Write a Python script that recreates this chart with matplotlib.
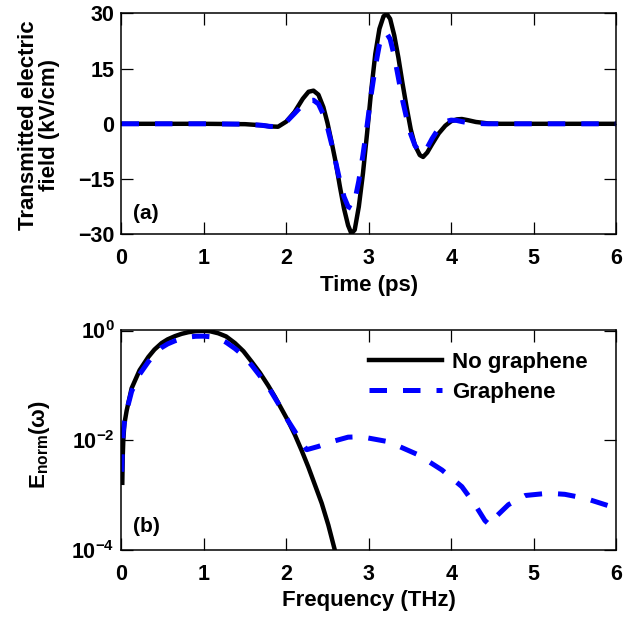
import math
import matplotlib
matplotlib.use("Agg")
import matplotlib.pyplot as plt
from matplotlib.ticker import FixedLocator, FuncFormatter, NullLocator

plt.rcParams['font.family'] = ['Liberation Sans', 'DejaVu Sans']
plt.rcParams['font.weight'] = 'bold'
plt.rcParams['mathtext.fontset'] = 'custom'
plt.rcParams['mathtext.rm'] = 'Liberation Sans:bold'
plt.rcParams['mathtext.bf'] = 'Liberation Sans:bold'
plt.rcParams['mathtext.it'] = 'Liberation Sans:bold'
plt.rcParams['mathtext.default'] = 'bf'

# ---------------- data ----------------
time_ps = [0.0, 0.5, 1.0, 1.5, 1.7, 1.8, 1.9, 2.0, 2.1, 2.2, 2.27, 2.33, 2.39,
           2.45, 2.5, 2.55, 2.6, 2.65, 2.7, 2.75, 2.79, 2.83, 2.88, 2.93, 2.98,
           3.03, 3.08, 3.13, 3.18, 3.22, 3.26, 3.31, 3.36, 3.41, 3.46, 3.51,
           3.56, 3.62, 3.66, 3.71, 3.77, 3.85, 3.93, 4.0, 4.07, 4.13, 4.2, 4.3,
           4.45, 4.6, 5.0, 5.5, 6.0]
field_no_graphene = [0.0, 0.0, 0.0, -0.1, -0.4, -0.7, -0.8, 0.6, 3.2, 6.8, 8.7,
                     9.0, 7.9, 4.5, 0.2, -5.0, -10.5, -17.0, -23.0, -27.6, -29.8,
                     -28.8, -22.5, -13.5, -2.6, 9.0, 19.0, 25.8, 29.2, 29.8, 28.5,
                     24.0, 18.0, 11.0, 4.5, -1.5, -5.8, -8.5, -9.0, -7.8, -5.5,
                     -2.6, -0.5, 0.7, 1.2, 1.3, 1.0, 0.5, 0.1, 0.0, 0.0, 0.0, 0.0]
field_graphene = [0.0, 0.0, 0.0, -0.1, -0.4, -0.7, -0.8, 0.5, 2.8, 5.2, 6.3,
                  6.4, 5.4, 2.5, -1.0, -5.5, -10.5, -15.5, -19.8, -22.5, -23.0,
                  -21.0, -15.5, -8.5, -0.5, 8.0, 15.5, 21.5, 24.5, 24.5, 23.0,
                  18.5, 12.5, 6.5, 1.5, -2.8, -5.8, -7.8, -8.0, -6.5, -4.0,
                  -1.2, 0.6, 1.0, 0.9, 0.6, 0.3, 0.1, 0.0, 0.0, 0.0, 0.0, 0.0]

freq_no_graphene = [0.01, 0.015, 0.022, 0.035, 0.063, 0.123, 0.22, 0.326, 0.4,
                    0.487, 0.56, 0.649, 0.73, 0.81, 0.9, 0.993, 1.08, 1.175,
                    1.27, 1.377, 1.48, 1.58, 1.68, 1.78, 1.86, 1.94, 2.02, 2.105,
                    2.186, 2.267, 2.348, 2.43, 2.51, 2.59, 2.63]
spec_no_graphene = [1.7e-3, 5.0e-3, 1.0e-2, 2.0e-2, 3.5e-2, 8.9e-2, 0.19, 0.33,
                    0.45, 0.59, 0.69, 0.79, 0.87, 0.93, 0.975, 0.99, 0.965, 0.89,
                    0.78, 0.59, 0.42, 0.27, 0.17, 0.10, 0.063, 0.038, 0.023,
                    0.0126, 6.6e-3, 3.3e-3, 1.55e-3, 7.2e-4, 2.9e-4, 1.0e-4,
                    6.5e-5]
freq_graphene = [0.003, 0.012, 0.022, 0.035, 0.063, 0.123, 0.22, 0.326, 0.4,
                 0.487, 0.56, 0.649, 0.73, 0.81, 0.9, 0.993, 1.08, 1.175, 1.27,
                 1.377, 1.48, 1.58, 1.68, 1.78, 1.86, 1.94, 2.02, 2.105, 2.18,
                 2.247, 2.389, 2.55, 2.75, 2.91, 3.24, 3.6, 3.89, 4.13, 4.29,
                 4.41, 4.47, 4.55, 4.695, 4.9, 5.18, 5.38, 5.625, 5.87, 6.0]
spec_graphene = [2.7e-3, 9.0e-3, 1.5e-2, 2.1e-2, 3.5e-2, 7.8e-2, 0.16, 0.27,
                 0.37, 0.49, 0.57, 0.65, 0.71, 0.76, 0.785, 0.79, 0.77, 0.72,
                 0.61, 0.47, 0.35, 0.234, 0.15, 0.095, 0.06, 0.038, 0.023,
                 0.0145, 9.5e-3, 6.8e-3, 7.8e-3, 9.5e-3, 0.0115, 0.0117, 9.5e-3,
                 5.5e-3, 2.9e-3, 1.45e-3, 6.8e-4, 3.5e-4, 2.9e-4, 4.2e-4, 6.8e-4,
                 1.0e-3, 1.1e-3, 1.05e-3, 8.9e-4, 6.8e-4, 5.9e-4]

time_ticks = [0, 1, 2, 3, 4, 5, 6]
field_ticks = [-30, -15, 0, 15, 30]
field_tick_labels = ['\u221230', '\u221215', '0', '15', '30']
spec_ticks = [1e-4, 1e-2, 1e0]
labels_legend = ['No graphene', 'Graphene']

# ---------------- figure ----------------
fig = plt.figure(figsize=(6.35, 6.17), dpi=100)
ax1 = fig.add_axes([0.1913, 0.6203, 0.7787, 0.3581])
ax2 = fig.add_axes([0.1913, 0.1078, 0.7787, 0.3573])

BLUE = '#0000ff'
DASH = (0, (3.5, 3.2))
TICK_FS = 15.5
LABEL_FS = 16


def style(ax):
    for s in ax.spines.values():
        s.set_linewidth(1.1)
    ax.tick_params(which='major', direction='in', length=8.5, width=0.9,
                   top=True, right=True, labelsize=TICK_FS)
    ax.tick_params(axis='x', pad=10)
    ax.tick_params(axis='y', pad=5)
    ax.tick_params(which='minor', length=0)
    for lab in ax.get_xticklabels() + ax.get_yticklabels():
        lab.set_fontweight('bold')


# top panel
ax1.plot(time_ps, field_no_graphene, color='black', lw=3.2)
ax1.plot(time_ps, field_graphene, color=BLUE, lw=3.6, linestyle=DASH)
ax1.set_xlim(0, 6)
ax1.set_ylim(-30, 30)
ax1.set_xticks(time_ticks)
ax1.set_yticks(field_ticks)
ax1.set_yticklabels(field_tick_labels)
style(ax1)
ax1.set_xlabel('Time (ps)', fontsize=LABEL_FS, fontweight='bold', labelpad=4)
ax1.set_ylabel('Transmitted electric\nfield (kV/cm)', fontsize=LABEL_FS,
               fontweight='bold', linespacing=1.0)
ax1.yaxis.set_label_coords(-0.124, 0.495)
ax1.text(0.023, 0.096, '(a)', transform=ax1.transAxes, fontsize=15,
         fontweight='bold', va='center', ha='left')

# bottom panel
ax2.plot(freq_no_graphene, spec_no_graphene, color='black', lw=3.2,
         label=labels_legend[0])
ax2.plot(freq_graphene, spec_graphene, color=BLUE, lw=3.6, linestyle=DASH,
         label=labels_legend[1])
ax2.set_yscale('log')
ax2.set_xlim(0, 6)
ax2.set_ylim(1e-4, 1.02)
ax2.set_xticks(time_ticks)
ax2.yaxis.set_major_locator(FixedLocator(spec_ticks))
ax2.yaxis.set_minor_locator(NullLocator())
ax2.yaxis.set_major_formatter(FuncFormatter(
    lambda v, p: r'$\mathbf{10^{%d}}$' % round(math.log10(v))))
style(ax2)
ax2.set_xlabel('Frequency (THz)', fontsize=LABEL_FS, fontweight='bold',
               labelpad=3)
ax2.set_ylabel(r'E$_{\mathbf{norm}}$($\omega$)', fontsize=LABEL_FS,
               fontweight='bold')
ax2.yaxis.set_label_coords(-0.14, 0.48)
ax2.text(0.023, 0.107, '(b)', transform=ax2.transAxes, fontsize=15,
         fontweight='bold', va='center', ha='left')
leg = ax2.legend(loc='upper left', bbox_to_anchor=(0.482, 0.94), frameon=False,
                 fontsize=LABEL_FS, handlelength=3.3, handletextpad=0.45,
                 labelspacing=0.38, borderaxespad=0)
for t in leg.get_texts():
    t.set_fontweight('bold')

fig.savefig('out.png', dpi=100)
